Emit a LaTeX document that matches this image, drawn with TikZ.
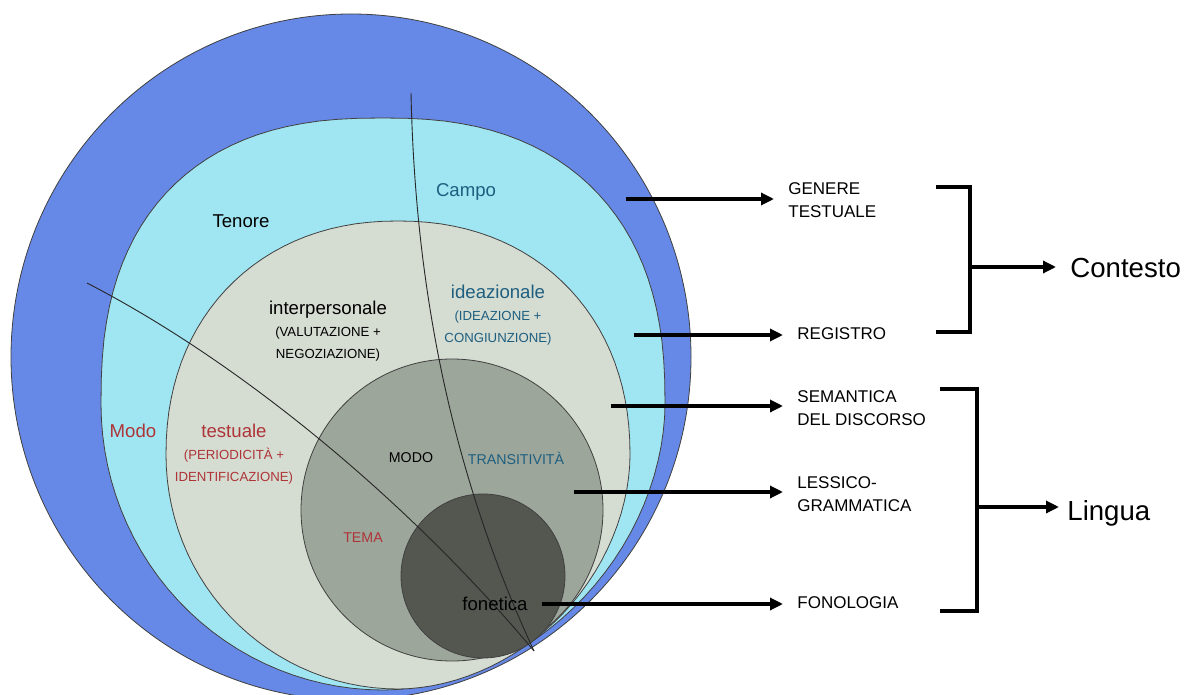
\documentclass[tikz,border=0pt]{standalone}
\usepackage{fontspec}
\setmainfont{Liberation Sans}
\usetikzlibrary{arrows.meta}

\definecolor{contextblue}{HTML}{6688E6}
\definecolor{registercyan}{HTML}{A0E6F2}
\definecolor{semgray}{HTML}{D5DCD2}
\definecolor{lexgray}{HTML}{9DA69B}
\definecolor{phongray}{HTML}{535750}
\definecolor{fieldteal}{HTML}{1E5F80}
\definecolor{modered}{HTML}{AE3438}

\newcommand{\capsmall}[1]{{\fontsize{6.6}{11}\selectfont #1}}
% egg-like ring: centre x, centre y, x radius, y radius, exponent per quarter
\newcommand{\eggshape}[8]{%
  plot[domain=0:90] ({#1+#3*(abs(cos(\x))+0.00001)^(2/#5)}, {#2+#4*(abs(sin(\x))+0.00001)^(2/#5)})
  -- plot[domain=90:180] ({#1-#3*(abs(cos(\x))+0.00001)^(2/#6)}, {#2+#4*(abs(sin(\x))+0.00001)^(2/#6)})
  -- plot[domain=180:270] ({#1-#3*(abs(cos(\x))+0.00001)^(2/#7)}, {#2-#4*(abs(sin(\x))+0.00001)^(2/#7)})
  -- plot[domain=270:360] ({#1+#3*(abs(cos(\x))+0.00001)^(2/#8)}, {#2-#4*(abs(sin(\x))+0.00001)^(2/#8)})
  -- cycle}

\begin{document}
\begin{tikzpicture}[x=0.5pt, y=-0.5pt, samples=30,
    ring/.style={draw=black!75, line width=0.4pt},
    sep/.style={draw=black!85, line width=0.45pt},
    lbl/.style={inner sep=0pt, align=center, font=\fontsize{9.3}{11}\selectfont},
    capslbl/.style={inner sep=0pt, font=\fontsize{7.1}{9}\selectfont},
    side/.style={inner sep=0pt, anchor=west, align=left, font=\fontsize{8.5}{11.5}\selectfont},
    big/.style={inner sep=0pt, anchor=west, font=\fontsize{13.8}{16}\selectfont},
    arr/.style={line width=1.6pt, -{Triangle[length=6.5pt,width=6pt]}, shorten >=7pt},
    brk/.style={line width=1.6pt}]
  \useasboundingbox (0,0) rectangle (1199,695);
  \clip (0,0) rectangle (1199,695);

  % nested rings
  \filldraw[ring, fill=contextblue] (351,357) ellipse [x radius=340, y radius=343];
  \filldraw[ring, fill=registercyan] \eggshape{383}{404}{282}{286}{1.9}{2}{2.45}{2.4};
  \filldraw[ring, fill=semgray] \eggshape{398}{455}{232}{234}{1.9}{2}{2.15}{2.15};
  \filldraw[ring, fill=lexgray] (452,510) circle (151);
  \filldraw[ring, fill=phongray] (483,576) circle (82);

  % separating curves
  \coordinate (tp) at (534,651);
  \draw[sep] (411,93) .. controls (415,279) and (448,466) .. (tp);
  \draw[sep] (87,283) .. controls (257,371) and (423,518) .. (tp);

  % labels in the rings
  \node[lbl, text=fieldteal] (campo) at (466,192) {Campo};
  \node[lbl] (tenore) at (241,221) {Tenore};
  \node[lbl, text=modered] (modo) at (133,431) {Modo};
  \node[lbl] (interp) at (328,331)
    {interpersonale\\\capsmall{(VALUTAZIONE +}\\\capsmall{NEGOZIAZIONE)}};
  \node[lbl, text=fieldteal] (ideaz) at (498,315)
    {ideazionale\\\capsmall{(IDEAZIONE +}\\\capsmall{CONGIUNZIONE)}};
  \node[lbl, text=modered] (testuale) at (234,454)
    {testuale\\\capsmall{(PERIODICITÀ +}\\\capsmall{IDENTIFICAZIONE)}};
  \node[capslbl] (mood) at (411,458) {MODO};
  \node[capslbl, text=fieldteal] (transit) at (516,458) {TRANSITIVITÀ};
  \node[capslbl, text=modered] (tema) at (363,538) {TEMA};
  \node[lbl] (fonetica) at (495,604) {fonetica};

  % strata on the right
  \node[side] (genere) at (788,200) {GENERE\\TESTUALE};
  \node[side] (registro) at (797,334) {REGISTRO};
  \node[side] (semantica) at (797,408) {SEMANTICA\\DEL DISCORSO};
  \node[side] (lessico) at (797,494) {LESSICO-\\GRAMMATICA};
  \node[side] (fonologia) at (797,603) {FONOLOGIA};

  \coordinate (g1) at (626,199);
  \coordinate (r1) at (634,335);
  \coordinate (s1) at (611,406);
  \coordinate (l1) at (574,492);

  \draw[arr] (g1) -- (g1 -| genere.west);
  \draw[arr] (r1) -- (r1 -| registro.west);
  \draw[arr] (s1) -- (s1 -| semantica.west);
  \draw[arr] (l1) -- (l1 -| lessico.west);
  \draw[arr, shorten <=7pt] (fonetica.east) -- (fonetica.east -| fonologia.west);

  % brackets
  \node[big] (contesto) at (1070,268) {Contesto};
  \node[big] (lingua) at (1067,513) {Lingua};

  \coordinate (ct) at (936,187);
  \coordinate (cb) at (936,332);
  \coordinate (cm) at (970,267);
  \draw[brk] (ct) -- ++(34,0) |- (cb);
  \draw[arr] (cm) -- (cm -| contesto.west);

  \coordinate (lt) at (940,389);
  \coordinate (lb) at (940,611);
  \coordinate (lm) at (977,507);
  \draw[brk] (lt) -- ++(37,0) |- (lb);
  \draw[arr, shorten >=4pt] (lm) -- (lm -| lingua.west);
\end{tikzpicture}
\end{document}
